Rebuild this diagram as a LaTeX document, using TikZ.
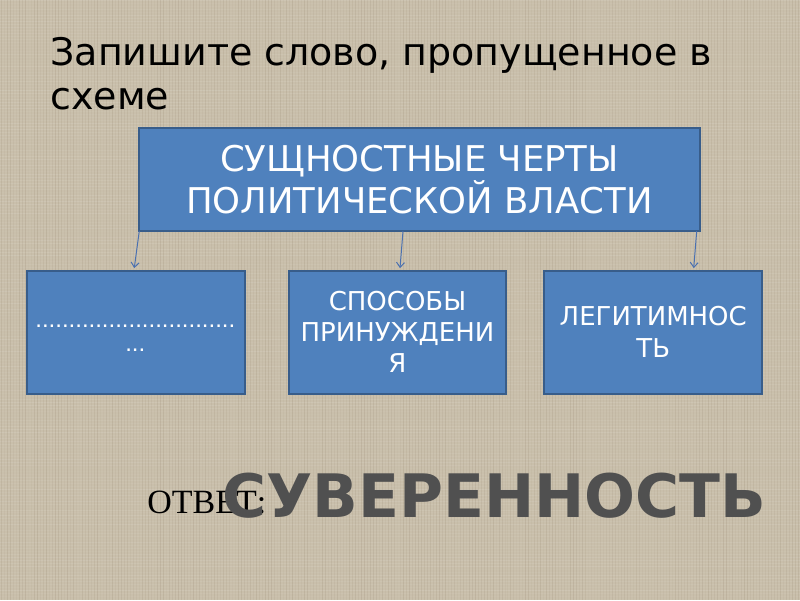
\documentclass[tikz,border=0pt]{standalone}
\usepackage{fontspec}
\setmainfont{DejaVu Sans}
\newfontfamily\serifru{Liberation Serif}
\newfontfamily\dotsfont{Liberation Sans}
\usetikzlibrary{arrows.meta}
\definecolor{bg}{RGB}{201,191,171}
\definecolor{boxfill}{RGB}{79,129,189}
\definecolor{boxline}{RGB}{56,93,138}
\definecolor{arr}{RGB}{74,112,176}
\definecolor{ans}{RGB}{80,80,80}
\begin{document}
\begin{tikzpicture}[x=1pt,y=-1pt,
  bluebox/.style={draw=boxline, line width=2pt, fill=boxfill, text=white, align=center, inner sep=0pt, font=\fontsize{26}{31}\selectfont},
  smallbox/.style={bluebox, minimum width=218pt, minimum height=123pt},
  link/.style={draw=arr, line width=1pt, -{Straight Barb[length=5pt,width=8pt]}},
  plain/.style={anchor=base west, inner sep=0pt}]
\fill[bg] (0,0) rectangle (800,600);
\pgfmathsetseed{7}
\foreach \i in {0,3,...,600} {
  \pgfmathsetmacro{\op}{0.03+0.08*rnd}
  \draw[white, opacity=\op, line width=0.8pt] (0,\i) -- (800,\i);
}
\foreach \i in {1,4,...,800} {
  \pgfmathsetmacro{\op}{0.02+0.07*rnd}
  \draw[black!60!brown, opacity=\op, line width=0.8pt] (\i,0) -- (\i,600);
}
\useasboundingbox (0,0) rectangle (800,600);
\node[plain, font=\fontsize{38}{44}\selectfont] (t1) at (50,65) {Запишите слово, пропущенное в};
\node[plain, font=\fontsize{38}{44}\selectfont] (t2) at (50,109) {схеме};
\node[bluebox, minimum width=561pt, minimum height=103pt, font=\fontsize{35.5}{42}\selectfont] (top) at (419.5,179) {СУЩНОСТНЫЕ ЧЕРТЫ\\ПОЛИТИЧЕСКОЙ ВЛАСТИ};
\node[smallbox] (b1) at (135.5,332) {};
\node[inner sep=0pt, text=white, align=center, font=\dotsfont\fontsize{24}{24}\selectfont] (b1t) at (135,338) {..............................\\...};
\node[smallbox] (b2) at (397.5,332) {СПОСОБЫ\\ПРИНУЖДЕНИ\\Я};
\node[smallbox, font=\fontsize{26}{32}\selectfont] (b3) at (653.5,332) {ЛЕГИТИМНОС\\ТЬ};
\coordinate (s1) at (139,231); \coordinate (e1) at (134,268);
\coordinate (s2) at (403,231); \coordinate (e2) at (400,268);
\coordinate (s3) at (697,231); \coordinate (e3) at (694,268);
\draw[link] (s1) -- (e1);
\draw[link] (s2) -- (e2);
\draw[link] (s3) -- (e3);
\node[plain, font=\serifru\fontsize{34}{34}\selectfont] (otv) at (147,514) {ОТВЕТ:};
\node[plain, text=ans, font=\bfseries\fontsize{60}{60}\selectfont] (answer) at (222,518) {СУВЕРЕННОСТЬ};
\end{tikzpicture}
\end{document}
